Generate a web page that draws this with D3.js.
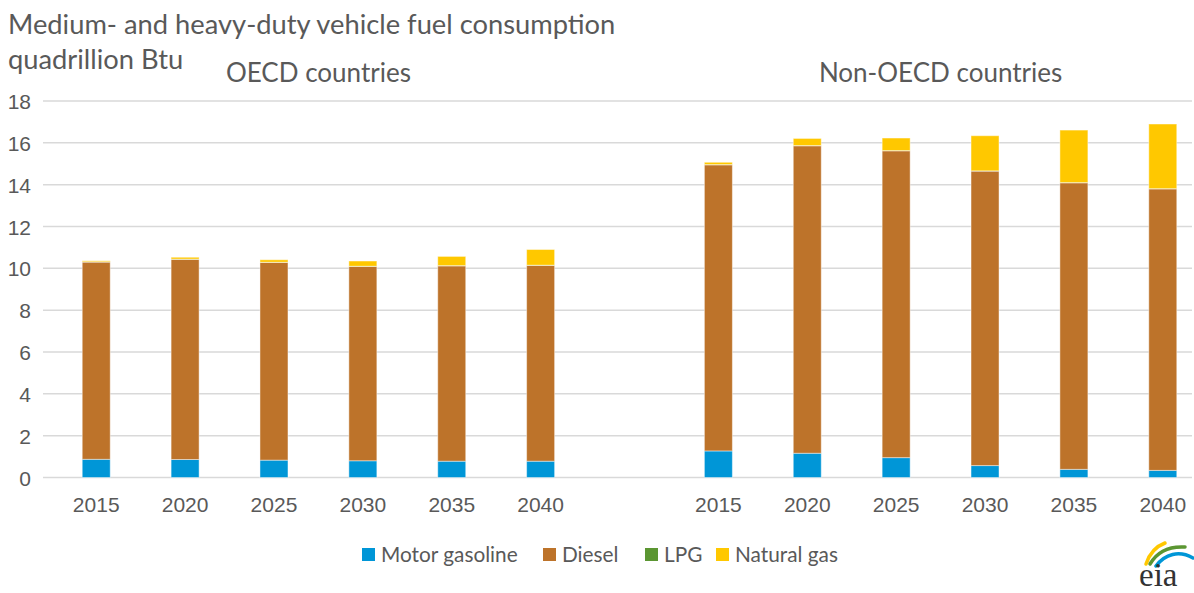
<!DOCTYPE html>
<html>
<head>
<meta charset="utf-8">
<script src="https://cdnjs.cloudflare.com/ajax/libs/d3/7.8.5/d3.min.js"></script>
<style>
	body { margin: 0; background: #fff; }
	svg { display: block; font-family: "Lato", "Open Sans", sans-serif; }
	.axis text { fill: #595959; font-size: 21px; }
	.grid line { stroke: #d9d9d9; stroke-width: 1.5; }
</style>
</head>
<body>
<div id="chart"></div>
<script>
var years = ["2015", "2020", "2025", "2030", "2035", "2040"];
var groups = ["OECD countries", "Non-OECD countries"];
var fuels = ["Motor gasoline", "Diesel", "LPG", "Natural gas"];
var fuelColors = ["#0096d7", "#bd732a", "#5b9632", "#ffc800"];
var yTicks = [0, 2, 4, 6, 8, 10, 12, 14, 16, 18];

// quadrillion Btu
var oecdGasoline = [0.87, 0.86, 0.83, 0.80, 0.78, 0.78];
var oecdDiesel = [9.43, 9.57, 9.45, 9.29, 9.34, 9.36];
var oecdLpg = [0.01, 0.01, 0.01, 0.01, 0.01, 0.01];
var oecdNaturalGas = [0.05, 0.09, 0.12, 0.25, 0.44, 0.75];

var nonOecdGasoline = [1.27, 1.16, 0.95, 0.57, 0.39, 0.34];
var nonOecdDiesel = [13.68, 14.70, 14.67, 14.08, 13.70, 13.46];
var nonOecdLpg = [0.01, 0.01, 0.01, 0.01, 0.01, 0.01];
var nonOecdNaturalGas = [0.11, 0.34, 0.60, 1.68, 2.51, 3.09];

var width = 1194, height = 593;
var plot = { left: 43, right: 1192, top: 101, bottom: 477.5 };

function buildRows() {
	var rows = [];
	years.forEach(function(yr, i){
		rows.push({ key: "o" + yr, label: yr, values: [oecdGasoline[i], oecdDiesel[i], oecdLpg[i], oecdNaturalGas[i]] });
	});
	// empty slot between the two groups
	rows.push({ key: "gap", label: "", values: null });
	years.forEach(function(yr, i){
		rows.push({ key: "n" + yr, label: yr, values: [nonOecdGasoline[i], nonOecdDiesel[i], nonOecdLpg[i], nonOecdNaturalGas[i]] });
	});
	return rows;
}

var rows = buildRows();

var svg = d3.select("#chart").append("svg")
	.attr("width", width)
	.attr("height", height);

var xScale = d3.scaleBand()
	.domain(rows.map(function(d){ return d.key; }))
	.range([52, 1207])
	.paddingInner(0.685)
	.paddingOuter(0.34);

var yScale = d3.scaleLinear()
	.domain([0, 18])
	.range([plot.bottom, plot.top]);

// grid
svg.append("g")
	.attr("class", "grid")
	.selectAll("line")
	.data(yTicks).enter()
	.append("line")
	.attr("x1", plot.left)
	.attr("x2", plot.right)
	.attr("y1", function(d){ return yScale(d); })
	.attr("y2", function(d){ return yScale(d); });

// y labels
var yAxis = d3.axisLeft(yScale).tickValues(yTicks).tickSize(0).tickPadding(0);
var yg = svg.append("g")
	.attr("class", "axis y")
	.attr("transform", "translate(31,0)")
	.call(yAxis);
yg.select(".domain").remove();
yg.selectAll("text").attr("dy", "0.36em");

// x labels
var xAxis = d3.axisBottom(xScale)
	.tickSize(0)
	.tickPadding(0)
	.tickFormat(function(k){
		var r = rows.find(function(d){ return d.key === k; });
		return r.label;
	});
var xg = svg.append("g")
	.attr("class", "axis x")
	.attr("transform", "translate(0,497)")
	.call(xAxis);
xg.select(".domain").remove();
xg.selectAll("text").attr("dy", "0.71em");

// stacked bars
var stackRows = rows.filter(function(d){ return d.values; }).map(function(d){
	var o = { key: d.key };
	fuels.forEach(function(f, i){ o[f] = d.values[i]; });
	return o;
});
var series = d3.stack().keys(fuels)(stackRows);

svg.append("g")
	.selectAll("g")
	.data(series).enter()
	.append("g")
	.attr("fill", function(d, i){ return fuelColors[i]; })
	.selectAll("rect")
	.data(function(d){ return d; }).enter()
	.append("rect")
	.attr("x", function(d){ return xScale(d.data.key); })
	.attr("width", xScale.bandwidth())
	.attr("y", function(d){ return yScale(d[1]); })
	.attr("height", function(d){ return yScale(d[0]) - yScale(d[1]); })
	.attr("stroke", "rgba(255,255,255,0.45)")
	.attr("stroke-width", 1);

// titles
svg.append("text")
	.attr("x", 8).attr("y", 34)
	.attr("fill", "#595959")
	.style("font-size", "27.3px")
	.text("Medium- and heavy-duty vehicle fuel consumption");
svg.append("text")
	.attr("x", 8).attr("y", 69)
	.attr("fill", "#595959")
	.style("font-size", "27.3px")
	.text("quadrillion Btu");

var groupCenters = [
	(xScale("o2015") + xScale("o2040") + xScale.bandwidth()) / 2,
	(xScale("n2015") + xScale("n2040") + xScale.bandwidth()) / 2
];
svg.selectAll("text.group")
	.data(groups).enter()
	.append("text")
	.attr("class", "group")
	.attr("x", function(d, i){ return groupCenters[i]; })
	.attr("y", 82)
	.attr("text-anchor", "middle")
	.attr("fill", "#595959")
	.style("font-size", "26px")
	.text(function(d){ return d; });

// legend
var legendX = [362, 543, 645, 716];
var legend = svg.append("g").attr("class", "legend");
fuels.forEach(function(f, i){
	legend.append("rect")
		.attr("x", legendX[i]).attr("y", 548)
		.attr("width", 13).attr("height", 13)
		.attr("fill", fuelColors[i]);
	legend.append("text")
		.attr("x", legendX[i] + 19).attr("y", 562)
		.attr("fill", "#595959")
		.style("font-size", "20.8px")
		.text(f);
});

// eia logo
var logo = svg.append("g").attr("transform", "translate(1135,538)");
var arcs = [
	{ c: "#ffc800", d: "M11,26 C15,14 22,8 30,5" },
	{ c: "#5b9632", d: "M15,26 C22,14 34,8 50,9" },
	{ c: "#0096d7", d: "M21,28 C30,16 44,12 58,20" }
];
arcs.forEach(function(a){
	logo.append("path")
		.attr("d", a.d)
		.attr("fill", "none")
		.attr("stroke", a.c)
		.attr("stroke-width", 3.5)
		.attr("stroke-linecap", "round");
});
logo.append("text")
	.attr("x", 4).attr("y", 48)
	.attr("fill", "#333")
	.style("font-family", "'Liberation Serif', 'DejaVu Serif', serif")
	.style("font-size", "33px")
	.text("eia");
</script>
</body>
</html>
